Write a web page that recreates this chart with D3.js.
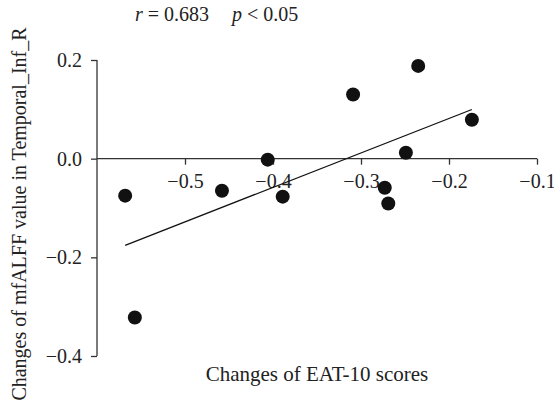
<!DOCTYPE html>
<html>
<head>
<meta charset="utf-8">
<script src="https://cdn.jsdelivr.net/npm/d3@7"></script>
<style>
  body { margin: 0; background: #fff; }
</style>
</head>
<body>
<script>
var width = 554, height = 415;
var serif = "Liberation Serif";

// changes of EAT-10 scores (x) and mfALFF values (y)
var eatChanges = [-0.568, -0.557, -0.458, -0.406, -0.389, -0.309, -0.235, -0.174, -0.249, -0.273, -0.269];
var alffChanges = [-0.075, -0.322, -0.065, -0.002, -0.077, 0.130, 0.188, 0.079, 0.012, -0.059, -0.091];
var xTicks = [-0.5, -0.4, -0.3, -0.2, -0.1];
var yTicks = [0.2, 0.0, -0.2, -0.4];

var svg = d3.select("body")
    .append("svg")
    .attr("width", width)
    .attr("height", height)
    .attr("font-family", serif);

var x = d3.scaleLinear().domain([-0.6, -0.1]).range([97, 537]);
var y = d3.scaleLinear().domain([-0.4, 0.2]).range([356, 60]);

var fmt = function (d) { return d3.format(".1f")(d).replace("-", "\u2212"); };

// x axis sits on y = 0
var xAxis = svg.append("g")
    .attr("transform", "translate(0," + y(0) + ")")
    .call(d3.axisBottom(x).tickValues(xTicks).tickSize(6).tickPadding(9).tickFormat(fmt));

var yAxis = svg.append("g")
    .attr("transform", "translate(" + x(-0.6) + ",0)")
    .call(d3.axisLeft(y).tickValues(yTicks).tickSize(6).tickPadding(9).tickFormat(fmt));

svg.selectAll(".domain, .tick line")
    .attr("stroke", "#333")
    .attr("stroke-width", 1.3);
xAxis.select(".domain").attr("d", "M" + x(-0.6) + ",0H" + x(-0.1));
yAxis.select(".domain").attr("d", "M0," + y(0.2) + "V" + y(-0.4));
svg.selectAll("g").attr("font-family", serif);
svg.selectAll(".tick text")
    .attr("font-size", 20)
    .attr("fill", "#222");

// least squares fit
var n = eatChanges.length;
var mx = d3.mean(eatChanges), my = d3.mean(alffChanges);
var sxy = 0, sxx = 0;
for (var i = 0; i < n; i++) {
    sxy += (eatChanges[i] - mx) * (alffChanges[i] - my);
    sxx += (eatChanges[i] - mx) * (eatChanges[i] - mx);
}
var slope = sxy / sxx, icpt = my - slope * mx;
var x0 = d3.min(eatChanges), x1 = d3.max(eatChanges);

svg.append("line")
    .attr("x1", x(x0)).attr("y1", y(icpt + slope * x0))
    .attr("x2", x(x1)).attr("y2", y(icpt + slope * x1))
    .attr("stroke", "#111")
    .attr("stroke-width", 1.3);

svg.append("g")
    .selectAll("circle")
    .data(eatChanges)
    .enter().append("circle")
    .attr("cx", function (d) { return x(d); })
    .attr("cy", function (d, i) { return y(alffChanges[i]); })
    .attr("r", 7)
    .attr("fill", "#111");

// stats line
var stat = svg.append("text")
    .attr("y", 21)
    .attr("font-size", 20)
    .attr("fill", "#222");
stat.append("tspan").attr("x", 135).attr("font-style", "italic").text("r");
stat.append("tspan").text(" = 0.683");
stat.append("tspan").attr("x", 232).attr("font-style", "italic").text("p");
stat.append("tspan").text(" < 0.05");

svg.append("text")
    .attr("x", 317)
    .attr("y", 381)
    .attr("text-anchor", "middle")
    .attr("font-size", 21)
    .attr("fill", "#222")
    .text("Changes of EAT-10 scores");

svg.append("text")
    .attr("transform", "translate(26,214) rotate(-90)")
    .attr("text-anchor", "middle")
    .attr("font-size", 20)
    .attr("fill", "#222")
    .text("Changes of mfALFF value in Temporal_Inf_R");
</script>
</body>
</html>
